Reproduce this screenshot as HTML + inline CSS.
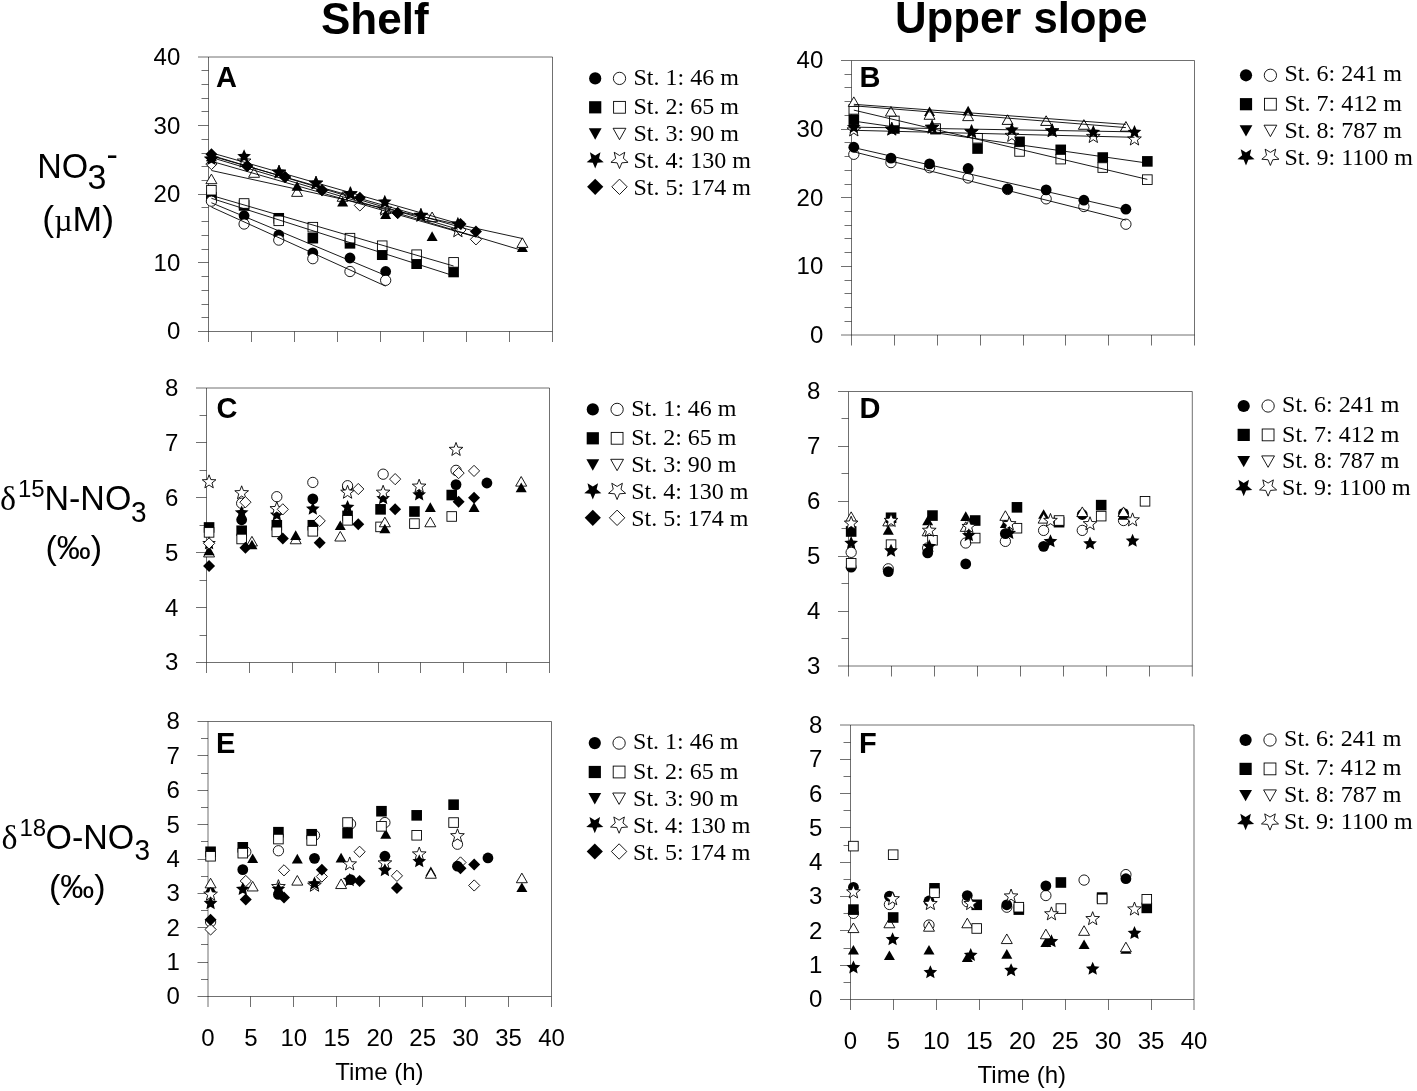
<!DOCTYPE html>
<html><head><meta charset="utf-8"><title>Figure</title>
<style>html,body{margin:0;padding:0;background:#fff;}body{width:1417px;height:1091px;overflow:hidden;}svg{display:block;filter:grayscale(1);}</style>
</head><body>
<svg width="1417" height="1091" viewBox="0 0 1417 1091">
<rect width="1417" height="1091" fill="#fff"/>
<text x="374.8" y="34" font-family="Liberation Sans" font-size="44" font-weight="bold" text-anchor="middle" fill="#000" >Shelf</text>
<text x="1021.3" y="32.6" font-family="Liberation Sans" font-size="43.7" font-weight="bold" text-anchor="middle" fill="#000" >Upper slope</text>
<g stroke="#000" stroke-opacity="0.56" stroke-width="1" fill="none">
<path d="M208.5,57 H552.5 V331.5"/>
<path d="M208.5,57 V331.5 H552.5"/>
<path d="M198,57 H208.5"/>
<path d="M201.5,70.5 H208.5"/>
<path d="M201.5,84.5 H208.5"/>
<path d="M201.5,98.5 H208.5"/>
<path d="M201.5,111.5 H208.5"/>
<path d="M198,125.5 H208.5"/>
<path d="M201.5,139.5 H208.5"/>
<path d="M201.5,153.5 H208.5"/>
<path d="M201.5,166.5 H208.5"/>
<path d="M201.5,180.5 H208.5"/>
<path d="M198,194.5 H208.5"/>
<path d="M201.5,207.5 H208.5"/>
<path d="M201.5,221.5 H208.5"/>
<path d="M201.5,235.5 H208.5"/>
<path d="M201.5,249.5 H208.5"/>
<path d="M198,262.5 H208.5"/>
<path d="M201.5,276.5 H208.5"/>
<path d="M201.5,290.5 H208.5"/>
<path d="M201.5,304.5 H208.5"/>
<path d="M201.5,317.5 H208.5"/>
<path d="M198,331.5 H208.5"/>
<path d="M208.5,331.5 V342"/>
<path d="M251.5,331.5 V342"/>
<path d="M294.5,331.5 V342"/>
<path d="M337.5,331.5 V342"/>
<path d="M380.5,331.5 V342"/>
<path d="M423.5,331.5 V342"/>
<path d="M466.5,331.5 V342"/>
<path d="M509.5,331.5 V342"/>
<path d="M552.5,331.5 V342"/>
</g>
<text x="180.3" y="64.9" font-family="Liberation Sans" font-size="24" font-weight="normal" text-anchor="end" fill="#000" >40</text>
<text x="180.3" y="133.53" font-family="Liberation Sans" font-size="24" font-weight="normal" text-anchor="end" fill="#000" >30</text>
<text x="180.3" y="202.15" font-family="Liberation Sans" font-size="24" font-weight="normal" text-anchor="end" fill="#000" >20</text>
<text x="180.3" y="270.77" font-family="Liberation Sans" font-size="24" font-weight="normal" text-anchor="end" fill="#000" >10</text>
<text x="180.3" y="339.4" font-family="Liberation Sans" font-size="24" font-weight="normal" text-anchor="end" fill="#000" >0</text>
<polygon points="211.42,174.08 216.92,183.68 205.92,183.68" fill="#fff" stroke="#000" stroke-width="0.9" stroke-linejoin="miter"/>
<polygon points="254.08,167.7 259.58,177.3 248.58,177.3" fill="#fff" stroke="#000" stroke-width="0.9" stroke-linejoin="miter"/>
<polygon points="297.08,186.77 302.58,196.37 291.58,196.37" fill="#fff" stroke="#000" stroke-width="0.9" stroke-linejoin="miter"/>
<polygon points="342.66,191.71 348.16,201.31 337.16,201.31" fill="#fff" stroke="#000" stroke-width="0.9" stroke-linejoin="miter"/>
<polygon points="385.66,203.86 391.16,213.46 380.16,213.46" fill="#fff" stroke="#000" stroke-width="0.9" stroke-linejoin="miter"/>
<polygon points="432.1,212.03 437.6,221.63 426.6,221.63" fill="#fff" stroke="#000" stroke-width="0.9" stroke-linejoin="miter"/>
<polygon points="211.42,152.05 213.2,156.81 218.27,157.03 214.3,160.19 215.66,165.08 211.42,162.28 207.19,165.08 208.55,160.19 204.58,157.03 209.65,156.81" fill="#fff" stroke="#000" stroke-width="0.9"/>
<polygon points="244.1,154.11 245.88,158.86 250.95,159.09 246.98,162.25 248.34,167.14 244.1,164.34 239.87,167.14 241.23,162.25 237.26,159.09 242.33,158.86" fill="#fff" stroke="#000" stroke-width="0.9"/>
<polygon points="279.02,165.09 280.8,169.84 285.87,170.07 281.9,173.23 283.25,178.12 279.02,175.32 274.79,178.12 276.14,173.23 272.17,170.07 277.24,169.84" fill="#fff" stroke="#000" stroke-width="0.9"/>
<polygon points="316,176.07 317.78,180.82 322.85,181.05 318.88,184.21 320.23,189.1 316,186.3 311.77,189.1 313.12,184.21 309.15,181.05 314.22,180.82" fill="#fff" stroke="#000" stroke-width="0.9"/>
<polygon points="350.4,186.71 352.18,191.46 357.25,191.68 353.28,194.84 354.63,199.73 350.4,196.93 346.17,199.73 347.52,194.84 343.55,191.68 348.62,191.46" fill="#fff" stroke="#000" stroke-width="0.9"/>
<polygon points="384.8,202.15 386.58,206.9 391.65,207.12 387.68,210.28 389.03,215.17 384.8,212.37 380.57,215.17 381.92,210.28 377.95,207.12 383.02,206.9" fill="#fff" stroke="#000" stroke-width="0.9"/>
<polygon points="420.92,208.33 422.7,213.08 427.77,213.3 423.8,216.46 425.15,221.35 420.92,218.55 416.69,221.35 418.04,216.46 414.07,213.3 419.14,213.08" fill="#fff" stroke="#000" stroke-width="0.9"/>
<polygon points="457.9,223.77 459.68,228.52 464.75,228.74 460.78,231.9 462.13,236.79 457.9,233.99 453.67,236.79 455.02,231.9 451.05,228.74 456.12,228.52" fill="#fff" stroke="#000" stroke-width="0.9"/>
<polygon points="211.42,158.46 217.02,164.06 211.42,169.66 205.82,164.06" fill="#fff" stroke="#000" stroke-width="0.9"/>
<polygon points="247.2,160.51 252.8,166.11 247.2,171.71 241.6,166.11" fill="#fff" stroke="#000" stroke-width="0.9"/>
<polygon points="285.04,171.49 290.64,177.09 285.04,182.69 279.44,177.09" fill="#fff" stroke="#000" stroke-width="0.9"/>
<polygon points="322.02,184.53 327.62,190.13 322.02,195.73 316.42,190.13" fill="#fff" stroke="#000" stroke-width="0.9"/>
<polygon points="359.86,199.84 365.46,205.44 359.86,211.04 354.26,205.44" fill="#fff" stroke="#000" stroke-width="0.9"/>
<polygon points="397.7,207.38 403.3,212.98 397.7,218.58 392.1,212.98" fill="#fff" stroke="#000" stroke-width="0.9"/>
<polygon points="460.48,224.34 466.08,229.94 460.48,235.53 454.88,229.94" fill="#fff" stroke="#000" stroke-width="0.9"/>
<polygon points="475.96,233.74 481.56,239.34 475.96,244.94 470.36,239.34" fill="#fff" stroke="#000" stroke-width="0.9"/>
<polygon points="211.42,151.71 216.92,161.31 205.92,161.31" fill="#000"/>
<polygon points="297.08,181.22 302.58,190.82 291.58,190.82" fill="#000"/>
<polygon points="342.66,196.79 348.16,206.39 337.16,206.39" fill="#000"/>
<polygon points="385.66,209.49 391.16,219.09 380.16,219.09" fill="#000"/>
<polygon points="432.1,231.31 437.6,240.91 426.6,240.91" fill="#000"/>
<polygon points="522.4,242.29 527.9,251.89 516.9,251.89" fill="#000"/>
<polygon points="211.42,152.05 213.41,156.51 218.27,157.03 214.64,160.3 215.66,165.08 211.42,162.64 207.19,165.08 208.21,160.3 204.58,157.03 209.43,156.51" fill="#000"/>
<polygon points="244.1,149.31 246.09,153.77 250.95,154.28 247.32,157.55 248.34,162.33 244.1,159.89 239.87,162.33 240.89,157.55 237.26,154.28 242.11,153.77" fill="#000"/>
<polygon points="279.02,165.09 281.01,169.55 285.87,170.07 282.24,173.34 283.25,178.12 279.02,175.68 274.79,178.12 275.8,173.34 272.17,170.07 277.03,169.55" fill="#000"/>
<polygon points="316,176.07 317.99,180.53 322.85,181.05 319.22,184.32 320.23,189.1 316,186.66 311.77,189.1 312.78,184.32 309.15,181.05 314.01,180.53" fill="#000"/>
<polygon points="350.4,186.71 352.39,191.17 357.25,191.68 353.62,194.95 354.63,199.73 350.4,197.29 346.17,199.73 347.18,194.95 343.55,191.68 348.41,191.17" fill="#000"/>
<polygon points="384.8,194.87 386.79,199.34 391.65,199.85 388.02,203.12 389.03,207.9 384.8,205.46 380.57,207.9 381.58,203.12 377.95,199.85 382.81,199.34" fill="#000"/>
<polygon points="420.92,208.33 422.91,212.79 427.77,213.3 424.14,216.57 425.15,221.35 420.92,218.91 416.69,221.35 417.7,216.57 414.07,213.3 418.93,212.79" fill="#000"/>
<polygon points="457.9,216.7 459.89,221.16 464.75,221.67 461.12,224.94 462.13,229.72 457.9,227.28 453.67,229.72 454.68,224.94 451.05,221.67 455.91,221.16" fill="#000"/>
<polygon points="211.42,148.17 217.42,154.17 211.42,160.17 205.42,154.17" fill="#000"/>
<polygon points="247.2,160.11 253.2,166.11 247.2,172.11 241.2,166.11" fill="#000"/>
<polygon points="285.04,171.09 291.04,177.09 285.04,183.09 279.04,177.09" fill="#000"/>
<polygon points="322.02,184.13 328.02,190.13 322.02,196.13 316.02,190.13" fill="#000"/>
<polygon points="359.86,191.68 365.86,197.68 359.86,203.68 353.86,197.68" fill="#000"/>
<polygon points="397.7,206.98 403.7,212.98 397.7,218.98 391.7,212.98" fill="#000"/>
<polygon points="460.48,217.9 466.48,223.9 460.48,229.9 454.48,223.9" fill="#000"/>
<polygon points="475.96,225.58 481.96,231.58 475.96,237.58 469.96,231.58" fill="#000"/>
<circle cx="211.42" cy="198.02" r="5.4" fill="#000"/>
<circle cx="244.1" cy="215.73" r="5.4" fill="#000"/>
<circle cx="278.76" cy="235.01" r="5.4" fill="#000"/>
<circle cx="312.82" cy="252.92" r="5.4" fill="#000"/>
<circle cx="349.97" cy="258" r="5.4" fill="#000"/>
<circle cx="385.66" cy="271.45" r="5.4" fill="#000"/>
<rect x="206.12" y="191.9" width="10.6" height="10.6" fill="#000"/>
<rect x="238.8" y="200.14" width="10.6" height="10.6" fill="#000"/>
<rect x="273.46" y="212.97" width="10.6" height="10.6" fill="#000"/>
<rect x="307.52" y="232.87" width="10.6" height="10.6" fill="#000"/>
<rect x="344.67" y="238.02" width="10.6" height="10.6" fill="#000"/>
<rect x="376.92" y="249.41" width="10.6" height="10.6" fill="#000"/>
<rect x="411.32" y="258.4" width="10.6" height="10.6" fill="#000"/>
<rect x="448.3" y="266.7" width="10.6" height="10.6" fill="#000"/>
<circle cx="211.42" cy="201.18" r="5.15" fill="#fff" stroke="#000" stroke-width="0.9"/>
<circle cx="244.1" cy="224.03" r="5.15" fill="#fff" stroke="#000" stroke-width="0.9"/>
<circle cx="278.76" cy="240.09" r="5.15" fill="#fff" stroke="#000" stroke-width="0.9"/>
<circle cx="312.82" cy="258.69" r="5.15" fill="#fff" stroke="#000" stroke-width="0.9"/>
<circle cx="349.97" cy="271.52" r="5.15" fill="#fff" stroke="#000" stroke-width="0.9"/>
<circle cx="385.66" cy="280.31" r="5.15" fill="#fff" stroke="#000" stroke-width="0.9"/>
<rect x="206.62" y="185.4" width="9.6" height="9.6" fill="#fff" stroke="#000" stroke-width="0.9"/>
<rect x="239.3" y="198.71" width="9.6" height="9.6" fill="#fff" stroke="#000" stroke-width="0.9"/>
<rect x="273.96" y="216.01" width="9.6" height="9.6" fill="#fff" stroke="#000" stroke-width="0.9"/>
<rect x="308.02" y="222.39" width="9.6" height="9.6" fill="#fff" stroke="#000" stroke-width="0.9"/>
<rect x="345.17" y="233.37" width="9.6" height="9.6" fill="#fff" stroke="#000" stroke-width="0.9"/>
<rect x="377.42" y="240.92" width="9.6" height="9.6" fill="#fff" stroke="#000" stroke-width="0.9"/>
<rect x="411.82" y="249.91" width="9.6" height="9.6" fill="#fff" stroke="#000" stroke-width="0.9"/>
<rect x="448.8" y="257.59" width="9.6" height="9.6" fill="#fff" stroke="#000" stroke-width="0.9"/>
<polygon points="522.4,237.83 527.9,247.43 516.9,247.43" fill="#fff" stroke="#000" stroke-width="0.9" stroke-linejoin="miter"/>
<g stroke="#000" stroke-width="0.9" fill="none">
<path d="M211.42,202.78 L385.66,275.46"/>
<path d="M211.42,207.07 L385.66,286.15"/>
<path d="M211.42,198.32 L453.6,275.73"/>
<path d="M211.42,195.45 L453.6,266"/>
<path d="M211.4,157.5 L522.4,250.5"/>
<path d="M211.4,170.5 L522.4,238.5"/>
<path d="M211.42,152.8 L457.9,223.42"/>
<path d="M211.42,155.33 L457.9,229.23"/>
<path d="M211.42,156.05 L475.96,231.64"/>
<path d="M211.42,161.28 L475.96,236.96"/>
</g>
<g stroke="#000" stroke-opacity="0.56" stroke-width="1" fill="none">
<path d="M851.5,60.5 H1194.5 V335"/>
<path d="M851.5,60.5 V335 H1194.5"/>
<path d="M841,60.5 H851.5"/>
<path d="M844.5,74.5 H851.5"/>
<path d="M844.5,87.5 H851.5"/>
<path d="M844.5,101.5 H851.5"/>
<path d="M844.5,115.5 H851.5"/>
<path d="M841,129.5 H851.5"/>
<path d="M844.5,142.5 H851.5"/>
<path d="M844.5,156.5 H851.5"/>
<path d="M844.5,170.5 H851.5"/>
<path d="M844.5,184.5 H851.5"/>
<path d="M841,197.5 H851.5"/>
<path d="M844.5,211.5 H851.5"/>
<path d="M844.5,225.5 H851.5"/>
<path d="M844.5,238.5 H851.5"/>
<path d="M844.5,252.5 H851.5"/>
<path d="M841,266.5 H851.5"/>
<path d="M844.5,280.5 H851.5"/>
<path d="M844.5,293.5 H851.5"/>
<path d="M844.5,307.5 H851.5"/>
<path d="M844.5,321.5 H851.5"/>
<path d="M841,335 H851.5"/>
<path d="M851.5,335 V345.5"/>
<path d="M894.5,335 V345.5"/>
<path d="M937.5,335 V345.5"/>
<path d="M980.5,335 V345.5"/>
<path d="M1023.5,335 V345.5"/>
<path d="M1065.5,335 V345.5"/>
<path d="M1108.5,335 V345.5"/>
<path d="M1151.5,335 V345.5"/>
<path d="M1194.5,335 V345.5"/>
</g>
<text x="823.3" y="68.4" font-family="Liberation Sans" font-size="24" font-weight="normal" text-anchor="end" fill="#000" >40</text>
<text x="823.3" y="137.03" font-family="Liberation Sans" font-size="24" font-weight="normal" text-anchor="end" fill="#000" >30</text>
<text x="823.3" y="205.65" font-family="Liberation Sans" font-size="24" font-weight="normal" text-anchor="end" fill="#000" >20</text>
<text x="823.3" y="274.27" font-family="Liberation Sans" font-size="24" font-weight="normal" text-anchor="end" fill="#000" >10</text>
<text x="823.3" y="342.9" font-family="Liberation Sans" font-size="24" font-weight="normal" text-anchor="end" fill="#000" >0</text>
<circle cx="853.82" cy="154.31" r="5.15" fill="#fff" stroke="#000" stroke-width="0.9"/>
<circle cx="890.95" cy="162.61" r="5.15" fill="#fff" stroke="#000" stroke-width="0.9"/>
<circle cx="929.53" cy="167.69" r="5.15" fill="#fff" stroke="#000" stroke-width="0.9"/>
<circle cx="968.12" cy="177.99" r="5.15" fill="#fff" stroke="#000" stroke-width="0.9"/>
<circle cx="1007.57" cy="189.52" r="5.15" fill="#fff" stroke="#000" stroke-width="0.9"/>
<circle cx="1046.15" cy="198.85" r="5.15" fill="#fff" stroke="#000" stroke-width="0.9"/>
<circle cx="1083.88" cy="206.53" r="5.15" fill="#fff" stroke="#000" stroke-width="0.9"/>
<circle cx="1125.9" cy="224.24" r="5.15" fill="#fff" stroke="#000" stroke-width="0.9"/>
<circle cx="853.82" cy="147.24" r="5.4" fill="#000"/>
<circle cx="890.95" cy="158.15" r="5.4" fill="#000"/>
<circle cx="929.53" cy="163.92" r="5.4" fill="#000"/>
<circle cx="968.12" cy="168.45" r="5.4" fill="#000"/>
<circle cx="1007.57" cy="188.9" r="5.4" fill="#000"/>
<circle cx="1046.15" cy="189.93" r="5.4" fill="#000"/>
<circle cx="1083.88" cy="200.22" r="5.4" fill="#000"/>
<circle cx="1125.9" cy="209.21" r="5.4" fill="#000"/>
<rect x="848.52" y="114.35" width="10.6" height="10.6" fill="#000"/>
<rect x="889.08" y="123.14" width="10.6" height="10.6" fill="#000"/>
<rect x="930.24" y="123.83" width="10.6" height="10.6" fill="#000"/>
<rect x="972.25" y="143.25" width="10.6" height="10.6" fill="#000"/>
<rect x="1014.27" y="136.52" width="10.6" height="10.6" fill="#000"/>
<rect x="1055.43" y="144.55" width="10.6" height="10.6" fill="#000"/>
<rect x="1097.45" y="152.24" width="10.6" height="10.6" fill="#000"/>
<rect x="1142.04" y="156.08" width="10.6" height="10.6" fill="#000"/>
<rect x="849.02" y="104.56" width="9.6" height="9.6" fill="#fff" stroke="#000" stroke-width="0.9"/>
<rect x="889.58" y="116.16" width="9.6" height="9.6" fill="#fff" stroke="#000" stroke-width="0.9"/>
<rect x="930.74" y="123.84" width="9.6" height="9.6" fill="#fff" stroke="#000" stroke-width="0.9"/>
<rect x="972.75" y="133.45" width="9.6" height="9.6" fill="#fff" stroke="#000" stroke-width="0.9"/>
<rect x="1014.77" y="146.63" width="9.6" height="9.6" fill="#fff" stroke="#000" stroke-width="0.9"/>
<rect x="1055.93" y="154.31" width="9.6" height="9.6" fill="#fff" stroke="#000" stroke-width="0.9"/>
<rect x="1097.95" y="162.75" width="9.6" height="9.6" fill="#fff" stroke="#000" stroke-width="0.9"/>
<rect x="1142.54" y="174.83" width="9.6" height="9.6" fill="#fff" stroke="#000" stroke-width="0.9"/>
<polygon points="929.53,106.48 935.03,116.08 924.03,116.08" fill="#000"/>
<polygon points="968.12,105.8 973.62,115.4 962.62,115.4" fill="#000"/>
<polygon points="1007.57,114.79 1013.07,124.39 1002.07,124.39" fill="#000"/>
<polygon points="1046.15,115.82 1051.65,125.42 1040.65,125.42" fill="#000"/>
<polygon points="1083.88,119.66 1089.38,129.26 1078.38,129.26" fill="#000"/>
<polygon points="1125.9,121.58 1131.4,131.18 1120.4,131.18" fill="#000"/>
<polygon points="853.82,96.88 859.32,106.48 848.32,106.48" fill="#fff" stroke="#000" stroke-width="0.9" stroke-linejoin="miter"/>
<polygon points="890.95,106.48 896.45,116.08 885.45,116.08" fill="#fff" stroke="#000" stroke-width="0.9" stroke-linejoin="miter"/>
<polygon points="929.53,109.71 935.03,119.31 924.03,119.31" fill="#fff" stroke="#000" stroke-width="0.9" stroke-linejoin="miter"/>
<polygon points="968.12,111.01 973.62,120.61 962.62,120.61" fill="#fff" stroke="#000" stroke-width="0.9" stroke-linejoin="miter"/>
<polygon points="1007.57,114.79 1013.07,124.39 1002.07,124.39" fill="#fff" stroke="#000" stroke-width="0.9" stroke-linejoin="miter"/>
<polygon points="1046.15,115.82 1051.65,125.42 1040.65,125.42" fill="#fff" stroke="#000" stroke-width="0.9" stroke-linejoin="miter"/>
<polygon points="1083.88,119.66 1089.38,129.26 1078.38,129.26" fill="#fff" stroke="#000" stroke-width="0.9" stroke-linejoin="miter"/>
<polygon points="1125.9,121.58 1131.4,131.18 1120.4,131.18" fill="#fff" stroke="#000" stroke-width="0.9" stroke-linejoin="miter"/>
<polygon points="853.82,122.96 855.59,127.71 860.66,127.93 856.69,131.09 858.05,135.98 853.82,133.18 849.58,135.98 850.94,131.09 846.97,127.93 852.04,127.71" fill="#fff" stroke="#000" stroke-width="0.9"/>
<polygon points="891.8,122.13 893.58,126.89 898.65,127.11 894.68,130.27 896.03,135.16 891.8,132.36 887.57,135.16 888.93,130.27 884.95,127.11 890.03,126.89" fill="#fff" stroke="#000" stroke-width="0.9"/>
<polygon points="932.11,120.21 933.88,124.96 938.95,125.19 934.98,128.35 936.34,133.24 932.11,130.43 927.87,133.24 929.23,128.35 925.26,125.19 930.33,124.96" fill="#fff" stroke="#000" stroke-width="0.9"/>
<polygon points="971.55,124.67 973.33,129.42 978.4,129.65 974.43,132.81 975.78,137.7 971.55,134.9 967.32,137.7 968.67,132.81 964.7,129.65 969.77,129.42" fill="#fff" stroke="#000" stroke-width="0.9"/>
<polygon points="1011.85,128.45 1013.63,133.2 1018.7,133.42 1014.73,136.58 1016.08,141.47 1011.85,138.67 1007.62,141.47 1008.98,136.58 1005,133.42 1010.08,133.2" fill="#fff" stroke="#000" stroke-width="0.9"/>
<polygon points="1052.15,123.78 1053.93,128.53 1059,128.75 1055.03,131.91 1056.39,136.8 1052.15,134 1047.92,136.8 1049.28,131.91 1045.31,128.75 1050.38,128.53" fill="#fff" stroke="#000" stroke-width="0.9"/>
<polygon points="1093.32,129.48 1095.09,134.23 1100.16,134.45 1096.19,137.61 1097.55,142.5 1093.32,139.7 1089.08,142.5 1090.44,137.61 1086.47,134.45 1091.54,134.23" fill="#fff" stroke="#000" stroke-width="0.9"/>
<polygon points="1134.47,132.01 1136.25,136.77 1141.32,136.99 1137.35,140.15 1138.71,145.04 1134.47,142.24 1130.24,145.04 1131.6,140.15 1127.63,136.99 1132.7,136.77" fill="#fff" stroke="#000" stroke-width="0.9"/>
<polygon points="853.82,120.21 855.8,124.67 860.66,125.19 857.03,128.46 858.05,133.24 853.82,130.79 849.58,133.24 850.6,128.46 846.97,125.19 851.83,124.67" fill="#000"/>
<polygon points="891.8,122.13 893.79,126.59 898.65,127.11 895.02,130.38 896.03,135.16 891.8,132.72 887.57,135.16 888.58,130.38 884.95,127.11 889.81,126.59" fill="#000"/>
<polygon points="932.11,120.21 934.09,124.67 938.95,125.19 935.32,128.46 936.34,133.24 932.11,130.79 927.87,133.24 928.89,128.46 925.26,125.19 930.12,124.67" fill="#000"/>
<polygon points="971.55,124.67 973.54,129.13 978.4,129.65 974.77,132.92 975.78,137.7 971.55,135.26 967.32,137.7 968.33,132.92 964.7,129.65 969.56,129.13" fill="#000"/>
<polygon points="1011.85,122.68 1013.84,127.14 1018.7,127.66 1015.07,130.93 1016.08,135.71 1011.85,133.27 1007.62,135.71 1008.63,130.93 1005,127.66 1009.86,127.14" fill="#000"/>
<polygon points="1052.15,123.78 1054.14,128.24 1059,128.75 1055.37,132.02 1056.39,136.8 1052.15,134.36 1047.92,136.8 1048.94,132.02 1045.31,128.75 1050.17,128.24" fill="#000"/>
<polygon points="1093.32,125.01 1095.3,129.48 1100.16,129.99 1096.53,133.26 1097.55,138.04 1093.32,135.6 1089.08,138.04 1090.1,133.26 1086.47,129.99 1091.33,129.48" fill="#000"/>
<polygon points="1134.47,125.01 1136.46,129.48 1141.32,129.99 1137.69,133.26 1138.71,138.04 1134.47,135.6 1130.24,138.04 1131.26,133.26 1127.63,129.99 1132.49,129.48" fill="#000"/>
<g stroke="#000" stroke-width="0.9" fill="none">
<path d="M853.82,147.61 L1125.9,209.63"/>
<path d="M853.82,151.82 L1125.9,220.11"/>
<path d="M853.82,121.13 L1147.34,163.08"/>
<path d="M853.82,110.11 L1147.34,179.39"/>
<path d="M853.8,104.3 L1125.9,124.4"/>
<path d="M853.8,105.8 L1125.9,127.6"/>
<path d="M853.82,127.15 L1134.47,131.86"/>
<path d="M853.82,130.31 L1134.47,137.31"/>
</g>
<g stroke="#000" stroke-opacity="0.56" stroke-width="1" fill="none">
<path d="M206.5,388 H549.5 V662.5"/>
<path d="M206.5,388 V662.5 H549.5"/>
<path d="M196,388 H206.5"/>
<path d="M199.5,415.5 H206.5"/>
<path d="M196,442.5 H206.5"/>
<path d="M199.5,470.5 H206.5"/>
<path d="M196,497.5 H206.5"/>
<path d="M199.5,525.5 H206.5"/>
<path d="M196,552.5 H206.5"/>
<path d="M199.5,580.5 H206.5"/>
<path d="M196,607.5 H206.5"/>
<path d="M199.5,635.5 H206.5"/>
<path d="M196,662.5 H206.5"/>
<path d="M206.5,662.5 V673"/>
<path d="M249.5,662.5 V673"/>
<path d="M292.5,662.5 V673"/>
<path d="M335.5,662.5 V673"/>
<path d="M378.5,662.5 V673"/>
<path d="M420.5,662.5 V673"/>
<path d="M463.5,662.5 V673"/>
<path d="M506.5,662.5 V673"/>
<path d="M549.5,662.5 V673"/>
</g>
<text x="178.3" y="395.9" font-family="Liberation Sans" font-size="24" font-weight="normal" text-anchor="end" fill="#000" >8</text>
<text x="178.3" y="450.8" font-family="Liberation Sans" font-size="24" font-weight="normal" text-anchor="end" fill="#000" >7</text>
<text x="178.3" y="505.7" font-family="Liberation Sans" font-size="24" font-weight="normal" text-anchor="end" fill="#000" >6</text>
<text x="178.3" y="560.6" font-family="Liberation Sans" font-size="24" font-weight="normal" text-anchor="end" fill="#000" >5</text>
<text x="178.3" y="615.5" font-family="Liberation Sans" font-size="24" font-weight="normal" text-anchor="end" fill="#000" >4</text>
<text x="178.3" y="670.4" font-family="Liberation Sans" font-size="24" font-weight="normal" text-anchor="end" fill="#000" >3</text>
<circle cx="241.66" cy="519.76" r="5.4" fill="#000"/>
<circle cx="312.83" cy="498.9" r="5.4" fill="#000"/>
<circle cx="347.56" cy="487.37" r="5.4" fill="#000"/>
<circle cx="456.03" cy="484.62" r="5.4" fill="#000"/>
<circle cx="486.9" cy="482.98" r="5.4" fill="#000"/>
<rect x="203.77" y="522.15" width="10.6" height="10.6" fill="#000"/>
<rect x="236.36" y="525.44" width="10.6" height="10.6" fill="#000"/>
<rect x="271.51" y="519.95" width="10.6" height="10.6" fill="#000"/>
<rect x="307.53" y="519.95" width="10.6" height="10.6" fill="#000"/>
<rect x="342.26" y="510.62" width="10.6" height="10.6" fill="#000"/>
<rect x="375.27" y="504.03" width="10.6" height="10.6" fill="#000"/>
<rect x="409.14" y="506.22" width="10.6" height="10.6" fill="#000"/>
<rect x="446.44" y="489.75" width="10.6" height="10.6" fill="#000"/>
<circle cx="241.66" cy="503.29" r="5.15" fill="#fff" stroke="#000" stroke-width="0.9"/>
<circle cx="276.81" cy="496.7" r="5.15" fill="#fff" stroke="#000" stroke-width="0.9"/>
<circle cx="312.83" cy="482.43" r="5.15" fill="#fff" stroke="#000" stroke-width="0.9"/>
<circle cx="347.56" cy="485.72" r="5.15" fill="#fff" stroke="#000" stroke-width="0.9"/>
<circle cx="383.14" cy="474.19" r="5.15" fill="#fff" stroke="#000" stroke-width="0.9"/>
<circle cx="456.03" cy="470.35" r="5.15" fill="#fff" stroke="#000" stroke-width="0.9"/>
<rect x="204.27" y="527.59" width="9.6" height="9.6" fill="#fff" stroke="#000" stroke-width="0.9"/>
<rect x="236.86" y="534.18" width="9.6" height="9.6" fill="#fff" stroke="#000" stroke-width="0.9"/>
<rect x="272.01" y="527.04" width="9.6" height="9.6" fill="#fff" stroke="#000" stroke-width="0.9"/>
<rect x="308.03" y="526.49" width="9.6" height="9.6" fill="#fff" stroke="#000" stroke-width="0.9"/>
<rect x="342.76" y="515.51" width="9.6" height="9.6" fill="#fff" stroke="#000" stroke-width="0.9"/>
<rect x="375.77" y="522.1" width="9.6" height="9.6" fill="#fff" stroke="#000" stroke-width="0.9"/>
<rect x="409.64" y="518.8" width="9.6" height="9.6" fill="#fff" stroke="#000" stroke-width="0.9"/>
<rect x="446.94" y="511.67" width="9.6" height="9.6" fill="#fff" stroke="#000" stroke-width="0.9"/>
<polygon points="209.07,536.31 211.06,540.77 215.92,541.28 212.29,544.55 213.3,549.33 209.07,546.89 204.84,549.33 205.85,544.55 202.22,541.28 207.08,540.77" fill="#000"/>
<polygon points="241.66,505.56 243.65,510.02 248.51,510.54 244.88,513.81 245.89,518.59 241.66,516.15 237.43,518.59 238.44,513.81 234.81,510.54 239.67,510.02" fill="#000"/>
<polygon points="276.81,507.76 278.8,512.22 283.66,512.73 280.03,516 281.05,520.78 276.81,518.34 272.58,520.78 273.6,516 269.97,512.73 274.83,512.22" fill="#000"/>
<polygon points="312.83,501.72 314.82,506.18 319.68,506.69 316.05,509.96 317.06,514.74 312.83,512.3 308.6,514.74 309.61,509.96 305.98,506.69 310.84,506.18" fill="#000"/>
<polygon points="347.56,500.07 349.55,504.53 354.41,505.05 350.78,508.32 351.79,513.1 347.56,510.66 343.33,513.1 344.34,508.32 340.71,505.05 345.57,504.53" fill="#000"/>
<polygon points="383.14,491.29 385.13,495.75 389.99,496.26 386.36,499.53 387.38,504.31 383.14,501.87 378.91,504.31 379.93,499.53 376.3,496.26 381.16,495.75" fill="#000"/>
<polygon points="419.16,487.44 421.15,491.91 426.01,492.42 422.38,495.69 423.39,500.47 419.16,498.03 414.93,500.47 415.94,495.69 412.31,492.42 417.17,491.91" fill="#000"/>
<polygon points="209.07,547.35 214.57,556.95 203.57,556.95" fill="#fff" stroke="#000" stroke-width="0.9" stroke-linejoin="miter"/>
<polygon points="251.95,536.37 257.45,545.97 246.45,545.97" fill="#fff" stroke="#000" stroke-width="0.9" stroke-linejoin="miter"/>
<polygon points="295.68,534.18 301.18,543.77 290.18,543.77" fill="#fff" stroke="#000" stroke-width="0.9" stroke-linejoin="miter"/>
<polygon points="340.27,531.43 345.77,541.03 334.77,541.03" fill="#fff" stroke="#000" stroke-width="0.9" stroke-linejoin="miter"/>
<polygon points="384.86,517.16 390.36,526.76 379.36,526.76" fill="#fff" stroke="#000" stroke-width="0.9" stroke-linejoin="miter"/>
<polygon points="430.31,517.16 435.81,526.76 424.81,526.76" fill="#fff" stroke="#000" stroke-width="0.9" stroke-linejoin="miter"/>
<polygon points="521.2,476.53 526.7,486.13 515.7,486.13" fill="#fff" stroke="#000" stroke-width="0.9" stroke-linejoin="miter"/>
<polygon points="209.07,545.7 214.57,555.3 203.57,555.3" fill="#000"/>
<polygon points="251.95,539.67 257.45,549.26 246.45,549.26" fill="#000"/>
<polygon points="295.68,530.33 301.18,539.93 290.18,539.93" fill="#000"/>
<polygon points="340.27,520.45 345.77,530.05 334.77,530.05" fill="#000"/>
<polygon points="384.86,523.74 390.36,533.34 379.36,533.34" fill="#000"/>
<polygon points="430.31,502.33 435.81,511.93 424.81,511.93" fill="#000"/>
<polygon points="474.04,502.33 479.54,511.93 468.54,511.93" fill="#000"/>
<polygon points="521.2,482.57 526.7,492.17 515.7,492.17" fill="#000"/>
<polygon points="209.07,474.82 210.85,479.57 215.92,479.79 211.95,482.95 213.3,487.84 209.07,485.04 204.84,487.84 206.2,482.95 202.22,479.79 207.3,479.57" fill="#fff" stroke="#000" stroke-width="0.9"/>
<polygon points="241.66,485.8 243.43,490.55 248.51,490.77 244.53,493.93 245.89,498.82 241.66,496.02 237.43,498.82 238.78,493.93 234.81,490.77 239.88,490.55" fill="#fff" stroke="#000" stroke-width="0.9"/>
<polygon points="276.81,501.72 278.59,506.47 283.66,506.69 279.69,509.85 281.05,514.74 276.81,511.94 272.58,514.74 273.94,509.85 269.97,506.69 275.04,506.47" fill="#fff" stroke="#000" stroke-width="0.9"/>
<polygon points="347.56,485.25 349.34,490 354.41,490.22 350.43,493.38 351.79,498.27 347.56,495.47 343.33,498.27 344.68,493.38 340.71,490.22 345.78,490" fill="#fff" stroke="#000" stroke-width="0.9"/>
<polygon points="383.14,485.25 384.92,490 389.99,490.22 386.02,493.38 387.38,498.27 383.14,495.47 378.91,498.27 380.27,493.38 376.3,490.22 381.37,490" fill="#fff" stroke="#000" stroke-width="0.9"/>
<polygon points="419.16,479.21 420.94,483.96 426.01,484.18 422.04,487.34 423.39,492.23 419.16,489.43 414.93,492.23 416.28,487.34 412.31,484.18 417.38,483.96" fill="#fff" stroke="#000" stroke-width="0.9"/>
<polygon points="456.03,442.43 457.81,447.18 462.88,447.4 458.91,450.56 460.26,455.45 456.03,452.65 451.8,455.45 453.16,450.56 449.18,447.4 454.26,447.18" fill="#fff" stroke="#000" stroke-width="0.9"/>
<polygon points="209.07,559.88 215.07,565.88 209.07,571.88 203.07,565.88" fill="#000"/>
<polygon points="245.43,541.76 251.43,547.76 245.43,553.76 239.43,547.76" fill="#000"/>
<polygon points="282.82,532.43 288.82,538.43 282.82,544.43 276.82,538.43" fill="#000"/>
<polygon points="319.69,536.82 325.69,542.82 319.69,548.82 313.69,542.82" fill="#000"/>
<polygon points="358.28,518.15 364.28,524.15 358.28,530.15 352.28,524.15" fill="#000"/>
<polygon points="395.15,503.33 401.15,509.33 395.15,515.33 389.15,509.33" fill="#000"/>
<polygon points="458.6,495.64 464.6,501.64 458.6,507.64 452.6,501.64" fill="#000"/>
<polygon points="474.04,491.8 480.04,497.8 474.04,503.8 468.04,497.8" fill="#000"/>
<polygon points="209.07,537.77 214.67,543.37 209.07,548.97 203.47,543.37" fill="#fff" stroke="#000" stroke-width="0.9"/>
<polygon points="245.43,496.59 251.03,502.19 245.43,507.79 239.83,502.19" fill="#fff" stroke="#000" stroke-width="0.9"/>
<polygon points="282.82,503.73 288.42,509.33 282.82,514.93 277.22,509.33" fill="#fff" stroke="#000" stroke-width="0.9"/>
<polygon points="319.69,515.26 325.29,520.86 319.69,526.46 314.09,520.86" fill="#fff" stroke="#000" stroke-width="0.9"/>
<polygon points="358.28,483.42 363.88,489.02 358.28,494.62 352.68,489.02" fill="#fff" stroke="#000" stroke-width="0.9"/>
<polygon points="395.15,473.53 400.75,479.13 395.15,484.73 389.55,479.13" fill="#fff" stroke="#000" stroke-width="0.9"/>
<polygon points="458.6,467.49 464.2,473.09 458.6,478.69 453,473.09" fill="#fff" stroke="#000" stroke-width="0.9"/>
<polygon points="474.04,465.3 479.64,470.9 474.04,476.5 468.44,470.9" fill="#fff" stroke="#000" stroke-width="0.9"/>
<g stroke="#000" stroke-opacity="0.56" stroke-width="1" fill="none">
<path d="M848.5,391.5 H1192.3 V666"/>
<path d="M848.5,391.5 V666 H1192.3"/>
<path d="M838,391.5 H848.5"/>
<path d="M841.5,418.5 H848.5"/>
<path d="M838,446.5 H848.5"/>
<path d="M841.5,473.5 H848.5"/>
<path d="M838,501.5 H848.5"/>
<path d="M841.5,528.5 H848.5"/>
<path d="M838,556.5 H848.5"/>
<path d="M841.5,583.5 H848.5"/>
<path d="M838,611.5 H848.5"/>
<path d="M841.5,638.5 H848.5"/>
<path d="M838,666 H848.5"/>
<path d="M848.5,666 V676.5"/>
<path d="M891.5,666 V676.5"/>
<path d="M934.5,666 V676.5"/>
<path d="M977.5,666 V676.5"/>
<path d="M1020.5,666 V676.5"/>
<path d="M1063.5,666 V676.5"/>
<path d="M1106.5,666 V676.5"/>
<path d="M1149.5,666 V676.5"/>
<path d="M1192.3,666 V676.5"/>
</g>
<text x="820.3" y="399.4" font-family="Liberation Sans" font-size="24" font-weight="normal" text-anchor="end" fill="#000" >8</text>
<text x="820.3" y="454.3" font-family="Liberation Sans" font-size="24" font-weight="normal" text-anchor="end" fill="#000" >7</text>
<text x="820.3" y="509.2" font-family="Liberation Sans" font-size="24" font-weight="normal" text-anchor="end" fill="#000" >6</text>
<text x="820.3" y="564.1" font-family="Liberation Sans" font-size="24" font-weight="normal" text-anchor="end" fill="#000" >5</text>
<text x="820.3" y="619" font-family="Liberation Sans" font-size="24" font-weight="normal" text-anchor="end" fill="#000" >4</text>
<text x="820.3" y="673.9" font-family="Liberation Sans" font-size="24" font-weight="normal" text-anchor="end" fill="#000" >3</text>
<circle cx="851.16" cy="552.36" r="5.15" fill="#fff" stroke="#000" stroke-width="0.9"/>
<circle cx="888.29" cy="568.83" r="5.15" fill="#fff" stroke="#000" stroke-width="0.9"/>
<circle cx="927.66" cy="547.97" r="5.15" fill="#fff" stroke="#000" stroke-width="0.9"/>
<circle cx="965.74" cy="543.02" r="5.15" fill="#fff" stroke="#000" stroke-width="0.9"/>
<circle cx="1005.36" cy="541.38" r="5.15" fill="#fff" stroke="#000" stroke-width="0.9"/>
<circle cx="1043.61" cy="530.4" r="5.15" fill="#fff" stroke="#000" stroke-width="0.9"/>
<circle cx="1082.28" cy="530.4" r="5.15" fill="#fff" stroke="#000" stroke-width="0.9"/>
<circle cx="1123.54" cy="520.51" r="5.15" fill="#fff" stroke="#000" stroke-width="0.9"/>
<circle cx="851.16" cy="567.18" r="5.4" fill="#000"/>
<circle cx="888.29" cy="571.57" r="5.4" fill="#000"/>
<circle cx="927.66" cy="552.91" r="5.4" fill="#000"/>
<circle cx="965.74" cy="563.89" r="5.4" fill="#000"/>
<circle cx="1005.36" cy="533.69" r="5.4" fill="#000"/>
<circle cx="1043.61" cy="546.32" r="5.4" fill="#000"/>
<circle cx="1082.28" cy="514.48" r="5.4" fill="#000"/>
<circle cx="1123.54" cy="513.38" r="5.4" fill="#000"/>
<polygon points="888.29,525.05 893.79,534.65 882.79,534.65" fill="#000"/>
<polygon points="927.66,515.72 933.16,525.31 922.16,525.31" fill="#000"/>
<polygon points="965.74,511.32 971.24,520.92 960.24,520.92" fill="#000"/>
<polygon points="1005.36,518.46 1010.86,528.06 999.86,528.06" fill="#000"/>
<polygon points="1043.61,509.13 1049.11,518.73 1038.11,518.73" fill="#000"/>
<polygon points="1123.54,510.22 1129.04,519.82 1118.04,519.82" fill="#000"/>
<polygon points="851.16,511.87 856.66,521.47 845.66,521.47" fill="#fff" stroke="#000" stroke-width="0.9" stroke-linejoin="miter"/>
<polygon points="888.29,516.26 893.79,525.86 882.79,525.86" fill="#fff" stroke="#000" stroke-width="0.9" stroke-linejoin="miter"/>
<polygon points="927.66,526.15 933.16,535.75 922.16,535.75" fill="#fff" stroke="#000" stroke-width="0.9" stroke-linejoin="miter"/>
<polygon points="965.74,521.75 971.24,531.35 960.24,531.35" fill="#fff" stroke="#000" stroke-width="0.9" stroke-linejoin="miter"/>
<polygon points="1005.36,510.77 1010.86,520.37 999.86,520.37" fill="#fff" stroke="#000" stroke-width="0.9" stroke-linejoin="miter"/>
<polygon points="1043.61,513.52 1049.11,523.12 1038.11,523.12" fill="#fff" stroke="#000" stroke-width="0.9" stroke-linejoin="miter"/>
<polygon points="1082.28,506.93 1087.78,516.53 1076.78,516.53" fill="#fff" stroke="#000" stroke-width="0.9" stroke-linejoin="miter"/>
<polygon points="1123.54,506.93 1129.04,516.53 1118.04,516.53" fill="#fff" stroke="#000" stroke-width="0.9" stroke-linejoin="miter"/>
<rect x="845.86" y="526.2" width="10.6" height="10.6" fill="#000"/>
<rect x="885.75" y="512.47" width="10.6" height="10.6" fill="#000"/>
<rect x="927.17" y="510.27" width="10.6" height="10.6" fill="#000"/>
<rect x="969.89" y="515.22" width="10.6" height="10.6" fill="#000"/>
<rect x="1011.66" y="502.04" width="10.6" height="10.6" fill="#000"/>
<rect x="1053.78" y="516.86" width="10.6" height="10.6" fill="#000"/>
<rect x="1095.89" y="499.84" width="10.6" height="10.6" fill="#000"/>
<rect x="846.36" y="558.54" width="9.6" height="9.6" fill="#fff" stroke="#000" stroke-width="0.9"/>
<rect x="886.25" y="539.87" width="9.6" height="9.6" fill="#fff" stroke="#000" stroke-width="0.9"/>
<rect x="927.67" y="535.48" width="9.6" height="9.6" fill="#fff" stroke="#000" stroke-width="0.9"/>
<rect x="970.39" y="533.28" width="9.6" height="9.6" fill="#fff" stroke="#000" stroke-width="0.9"/>
<rect x="1012.16" y="523.4" width="9.6" height="9.6" fill="#fff" stroke="#000" stroke-width="0.9"/>
<rect x="1054.28" y="515.72" width="9.6" height="9.6" fill="#fff" stroke="#000" stroke-width="0.9"/>
<rect x="1096.39" y="511.32" width="9.6" height="9.6" fill="#fff" stroke="#000" stroke-width="0.9"/>
<rect x="1140.23" y="496.5" width="9.6" height="9.6" fill="#fff" stroke="#000" stroke-width="0.9"/>
<polygon points="851.16,516.2 852.94,520.95 858.01,521.17 854.04,524.33 855.4,529.22 851.16,526.42 846.93,529.22 848.29,524.33 844.32,521.17 849.39,520.95" fill="#fff" stroke="#000" stroke-width="0.9"/>
<polygon points="891.05,513.45 892.82,518.21 897.89,518.43 893.92,521.59 895.28,526.48 891.05,523.68 886.81,526.48 888.17,521.59 884.2,518.43 889.27,518.21" fill="#fff" stroke="#000" stroke-width="0.9"/>
<polygon points="929.29,523.34 931.07,528.09 936.14,528.31 932.17,531.47 933.53,536.36 929.29,533.56 925.06,536.36 926.42,531.47 922.45,528.31 927.52,528.09" fill="#fff" stroke="#000" stroke-width="0.9"/>
<polygon points="968.83,519.49 970.61,524.25 975.68,524.47 971.71,527.63 973.06,532.52 968.83,529.72 964.6,532.52 965.95,527.63 961.98,524.47 967.05,524.25" fill="#fff" stroke="#000" stroke-width="0.9"/>
<polygon points="1009.23,516.75 1011,521.5 1016.07,521.72 1012.1,524.88 1013.46,529.77 1009.23,526.97 1004.99,529.77 1006.35,524.88 1002.38,521.72 1007.45,521.5" fill="#fff" stroke="#000" stroke-width="0.9"/>
<polygon points="1050.48,513.45 1052.26,518.21 1057.33,518.43 1053.36,521.59 1054.71,526.48 1050.48,523.68 1046.25,526.48 1047.61,521.59 1043.63,518.43 1048.71,518.21" fill="#fff" stroke="#000" stroke-width="0.9"/>
<polygon points="1090.02,516.75 1091.8,521.5 1096.87,521.72 1092.9,524.88 1094.25,529.77 1090.02,526.97 1085.79,529.77 1087.14,524.88 1083.17,521.72 1088.24,521.5" fill="#fff" stroke="#000" stroke-width="0.9"/>
<polygon points="1132.56,512.9 1134.34,517.66 1139.41,517.88 1135.44,521.04 1136.8,525.93 1132.56,523.13 1128.33,525.93 1129.69,521.04 1125.72,517.88 1130.79,517.66" fill="#fff" stroke="#000" stroke-width="0.9"/>
<polygon points="851.16,535.96 853.15,540.42 858.01,540.94 854.38,544.21 855.4,548.99 851.16,546.55 846.93,548.99 847.95,544.21 844.32,540.94 849.18,540.42" fill="#000"/>
<polygon points="891.05,543.65 893.03,548.11 897.89,548.62 894.26,551.89 895.28,556.67 891.05,554.23 886.81,556.67 887.83,551.89 884.2,548.62 889.06,548.11" fill="#000"/>
<polygon points="929.29,539.26 931.28,543.72 936.14,544.23 932.51,547.5 933.53,552.28 929.29,549.84 925.06,552.28 926.07,547.5 922.45,544.23 927.3,543.72" fill="#000"/>
<polygon points="968.83,528.28 970.82,532.74 975.68,533.25 972.05,536.52 973.06,541.3 968.83,538.86 964.6,541.3 965.61,536.52 961.98,533.25 966.84,532.74" fill="#000"/>
<polygon points="1009.23,526.08 1011.22,530.54 1016.07,531.06 1012.44,534.33 1013.46,539.11 1009.23,536.66 1004.99,539.11 1006.01,534.33 1002.38,531.06 1007.24,530.54" fill="#000"/>
<polygon points="1050.48,534.32 1052.47,538.78 1057.33,539.29 1053.7,542.56 1054.71,547.34 1050.48,544.9 1046.25,547.34 1047.26,542.56 1043.63,539.29 1048.49,538.78" fill="#000"/>
<polygon points="1090.02,536.51 1092.01,540.97 1096.87,541.49 1093.24,544.76 1094.25,549.54 1090.02,547.1 1085.79,549.54 1086.8,544.76 1083.17,541.49 1088.03,540.97" fill="#000"/>
<polygon points="1132.56,533.77 1134.55,538.23 1139.41,538.74 1135.78,542.01 1136.8,546.79 1132.56,544.35 1128.33,546.79 1129.35,542.01 1125.72,538.74 1130.58,538.23" fill="#000"/>
<g stroke="#000" stroke-opacity="0.56" stroke-width="1" fill="none">
<path d="M208,721.5 H551.5 V996.5"/>
<path d="M208,721.5 V996.5 H551.5"/>
<path d="M197.5,721.5 H208"/>
<path d="M201,738.5 H208"/>
<path d="M197.5,755.5 H208"/>
<path d="M201,773.5 H208"/>
<path d="M197.5,790.5 H208"/>
<path d="M201,807.5 H208"/>
<path d="M197.5,824.5 H208"/>
<path d="M201,841.5 H208"/>
<path d="M197.5,859.5 H208"/>
<path d="M201,876.5 H208"/>
<path d="M197.5,893.5 H208"/>
<path d="M201,910.5 H208"/>
<path d="M197.5,927.5 H208"/>
<path d="M201,944.5 H208"/>
<path d="M197.5,962.5 H208"/>
<path d="M201,979.5 H208"/>
<path d="M197.5,996.5 H208"/>
<path d="M208,996.5 V1007"/>
<path d="M250.5,996.5 V1007"/>
<path d="M293.5,996.5 V1007"/>
<path d="M336.5,996.5 V1007"/>
<path d="M379.5,996.5 V1007"/>
<path d="M422.5,996.5 V1007"/>
<path d="M465.5,996.5 V1007"/>
<path d="M508.5,996.5 V1007"/>
<path d="M551.5,996.5 V1007"/>
</g>
<text x="179.8" y="729.4" font-family="Liberation Sans" font-size="24" font-weight="normal" text-anchor="end" fill="#000" >8</text>
<text x="179.8" y="763.77" font-family="Liberation Sans" font-size="24" font-weight="normal" text-anchor="end" fill="#000" >7</text>
<text x="179.8" y="798.15" font-family="Liberation Sans" font-size="24" font-weight="normal" text-anchor="end" fill="#000" >6</text>
<text x="179.8" y="832.52" font-family="Liberation Sans" font-size="24" font-weight="normal" text-anchor="end" fill="#000" >5</text>
<text x="179.8" y="866.9" font-family="Liberation Sans" font-size="24" font-weight="normal" text-anchor="end" fill="#000" >4</text>
<text x="179.8" y="901.27" font-family="Liberation Sans" font-size="24" font-weight="normal" text-anchor="end" fill="#000" >3</text>
<text x="179.8" y="935.65" font-family="Liberation Sans" font-size="24" font-weight="normal" text-anchor="end" fill="#000" >2</text>
<text x="179.8" y="970.02" font-family="Liberation Sans" font-size="24" font-weight="normal" text-anchor="end" fill="#000" >1</text>
<text x="179.8" y="1004.4" font-family="Liberation Sans" font-size="24" font-weight="normal" text-anchor="end" fill="#000" >0</text>
<text x="208" y="1045.9" font-family="Liberation Sans" font-size="24" font-weight="normal" text-anchor="middle" fill="#000" >0</text>
<text x="250.94" y="1045.9" font-family="Liberation Sans" font-size="24" font-weight="normal" text-anchor="middle" fill="#000" >5</text>
<text x="293.88" y="1045.9" font-family="Liberation Sans" font-size="24" font-weight="normal" text-anchor="middle" fill="#000" >10</text>
<text x="336.81" y="1045.9" font-family="Liberation Sans" font-size="24" font-weight="normal" text-anchor="middle" fill="#000" >15</text>
<text x="379.75" y="1045.9" font-family="Liberation Sans" font-size="24" font-weight="normal" text-anchor="middle" fill="#000" >20</text>
<text x="422.69" y="1045.9" font-family="Liberation Sans" font-size="24" font-weight="normal" text-anchor="middle" fill="#000" >25</text>
<text x="465.62" y="1045.9" font-family="Liberation Sans" font-size="24" font-weight="normal" text-anchor="middle" fill="#000" >30</text>
<text x="508.56" y="1045.9" font-family="Liberation Sans" font-size="24" font-weight="normal" text-anchor="middle" fill="#000" >35</text>
<text x="551.5" y="1045.9" font-family="Liberation Sans" font-size="24" font-weight="normal" text-anchor="middle" fill="#000" >40</text>
<polygon points="210.58,882.73 216.08,892.33 205.08,892.33" fill="#000"/>
<polygon points="252.66,853.51 258.15,863.11 247.16,863.11" fill="#000"/>
<polygon points="297.31,853.86 302.81,863.46 291.81,863.46" fill="#000"/>
<polygon points="341.11,852.83 346.61,862.42 335.61,862.42" fill="#000"/>
<polygon points="385.76,829.11 391.26,838.71 380.26,838.71" fill="#000"/>
<polygon points="430.85,866.58 436.35,876.17 425.35,876.17" fill="#000"/>
<polygon points="521.87,882.39 527.37,891.99 516.37,891.99" fill="#000"/>
<polygon points="210.58,878.26 216.08,887.86 205.08,887.86" fill="#fff" stroke="#000" stroke-width="0.9" stroke-linejoin="miter"/>
<polygon points="252.66,881.36 258.15,890.96 247.16,890.96" fill="#fff" stroke="#000" stroke-width="0.9" stroke-linejoin="miter"/>
<polygon points="297.31,875.51 302.81,885.11 291.81,885.11" fill="#fff" stroke="#000" stroke-width="0.9" stroke-linejoin="miter"/>
<polygon points="341.11,878.95 346.61,888.55 335.61,888.55" fill="#fff" stroke="#000" stroke-width="0.9" stroke-linejoin="miter"/>
<polygon points="430.85,868.64 436.35,878.24 425.35,878.24" fill="#fff" stroke="#000" stroke-width="0.9" stroke-linejoin="miter"/>
<polygon points="521.87,873.11 527.37,882.71 516.37,882.71" fill="#fff" stroke="#000" stroke-width="0.9" stroke-linejoin="miter"/>
<circle cx="210.58" cy="921.91" r="5.15" fill="#fff" stroke="#000" stroke-width="0.9"/>
<circle cx="245.78" cy="851.78" r="5.15" fill="#fff" stroke="#000" stroke-width="0.9"/>
<circle cx="278.42" cy="850.75" r="5.15" fill="#fff" stroke="#000" stroke-width="0.9"/>
<circle cx="314.49" cy="835.28" r="5.15" fill="#fff" stroke="#000" stroke-width="0.9"/>
<circle cx="350.55" cy="823.94" r="5.15" fill="#fff" stroke="#000" stroke-width="0.9"/>
<circle cx="384.9" cy="822.56" r="5.15" fill="#fff" stroke="#000" stroke-width="0.9"/>
<circle cx="457.47" cy="844.22" r="5.15" fill="#fff" stroke="#000" stroke-width="0.9"/>
<polygon points="210.58,887.21 212.35,891.96 217.42,892.18 213.45,895.34 214.81,900.23 210.58,897.43 206.34,900.23 207.7,895.34 203.73,892.18 208.8,891.96" fill="#fff" stroke="#000" stroke-width="0.9"/>
<polygon points="278.42,879.64 280.19,884.4 285.27,884.62 281.29,887.78 282.65,892.67 278.42,889.87 274.19,892.67 275.54,887.78 271.57,884.62 276.64,884.4" fill="#fff" stroke="#000" stroke-width="0.9"/>
<polygon points="314.49,878.27 316.26,883.02 321.33,883.24 317.36,886.4 318.72,891.29 314.49,888.49 310.25,891.29 311.61,886.4 307.64,883.24 312.71,883.02" fill="#fff" stroke="#000" stroke-width="0.9"/>
<polygon points="349.69,856.96 351.47,861.71 356.54,861.93 352.57,865.09 353.93,869.98 349.69,867.18 345.46,869.98 346.82,865.09 342.85,861.93 347.92,861.71" fill="#fff" stroke="#000" stroke-width="0.9"/>
<polygon points="384.9,855.93 386.68,860.68 391.75,860.9 387.78,864.06 389.13,868.95 384.9,866.15 380.67,868.95 382.03,864.06 378.05,860.9 383.13,860.68" fill="#fff" stroke="#000" stroke-width="0.9"/>
<polygon points="419.25,846.99 421.03,851.74 426.1,851.96 422.13,855.12 423.48,860.01 419.25,857.21 415.02,860.01 416.38,855.12 412.4,851.96 417.48,851.74" fill="#fff" stroke="#000" stroke-width="0.9"/>
<polygon points="457.47,828.77 459.24,833.52 464.31,833.74 460.34,836.9 461.7,841.79 457.47,838.99 453.23,841.79 454.59,836.9 450.62,833.74 455.69,833.52" fill="#fff" stroke="#000" stroke-width="0.9"/>
<polygon points="210.58,923.87 216.18,929.47 210.58,935.07 204.98,929.47" fill="#fff" stroke="#000" stroke-width="0.9"/>
<polygon points="245.78,875.4 251.38,881 245.78,886.6 240.19,881" fill="#fff" stroke="#000" stroke-width="0.9"/>
<polygon points="284,864.74 289.6,870.34 284,875.94 278.4,870.34" fill="#fff" stroke="#000" stroke-width="0.9"/>
<polygon points="321.87,870.93 327.47,876.53 321.87,882.13 316.27,876.53" fill="#fff" stroke="#000" stroke-width="0.9"/>
<polygon points="359.57,846.18 365.17,851.78 359.57,857.38 353.97,851.78" fill="#fff" stroke="#000" stroke-width="0.9"/>
<polygon points="396.93,870.24 402.53,875.84 396.93,881.44 391.32,875.84" fill="#fff" stroke="#000" stroke-width="0.9"/>
<polygon points="460.47,856.84 466.07,862.44 460.47,868.04 454.87,862.44" fill="#fff" stroke="#000" stroke-width="0.9"/>
<polygon points="474.21,879.87 479.81,885.47 474.21,891.07 468.61,885.47" fill="#fff" stroke="#000" stroke-width="0.9"/>
<polygon points="210.58,896.14 212.57,900.61 217.42,901.12 213.79,904.39 214.81,909.17 210.58,906.73 206.34,909.17 207.36,904.39 203.73,901.12 208.59,900.61" fill="#000"/>
<polygon points="242.78,882.05 244.77,886.51 249.63,887.03 246,890.3 247.01,895.07 242.78,892.63 238.55,895.07 239.56,890.3 235.93,887.03 240.79,886.51" fill="#000"/>
<polygon points="278.42,882.05 280.41,886.51 285.27,887.03 281.64,890.3 282.65,895.07 278.42,892.63 274.19,895.07 275.2,890.3 271.57,887.03 276.43,886.51" fill="#000"/>
<polygon points="314.49,876.55 316.47,881.01 321.33,881.53 317.7,884.8 318.72,889.57 314.49,887.13 310.25,889.57 311.27,884.8 307.64,881.53 312.5,881.01" fill="#000"/>
<polygon points="349.69,873.11 351.68,877.57 356.54,878.09 352.91,881.36 353.93,886.14 349.69,883.7 345.46,886.14 346.48,881.36 342.85,878.09 347.7,877.57" fill="#000"/>
<polygon points="384.9,863.14 386.89,867.61 391.75,868.12 388.12,871.39 389.13,876.17 384.9,873.73 380.67,876.17 381.68,871.39 378.05,868.12 382.91,867.61" fill="#000"/>
<polygon points="419.25,854.21 421.24,858.67 426.1,859.18 422.47,862.45 423.48,867.23 419.25,864.79 415.02,867.23 416.03,862.45 412.4,859.18 417.26,858.67" fill="#000"/>
<polygon points="210.58,913.84 216.58,919.84 210.58,925.84 204.58,919.84" fill="#000"/>
<polygon points="245.78,893.56 251.78,899.56 245.78,905.56 239.78,899.56" fill="#000"/>
<polygon points="284,891.5 290,897.5 284,903.5 278,897.5" fill="#000"/>
<polygon points="321.87,863.66 327.87,869.66 321.87,875.66 315.87,869.66" fill="#000"/>
<polygon points="359.57,875 365.57,881 359.57,887 353.57,881" fill="#000"/>
<polygon points="396.93,881.88 402.93,887.88 396.93,893.88 390.93,887.88" fill="#000"/>
<polygon points="460.47,862.28 466.47,868.28 460.47,874.28 454.47,868.28" fill="#000"/>
<polygon points="474.21,858.5 480.21,864.5 474.21,870.5 468.21,864.5" fill="#000"/>
<circle cx="242.78" cy="869.66" r="5.4" fill="#000"/>
<circle cx="278.42" cy="894.41" r="5.4" fill="#000"/>
<circle cx="314.49" cy="858.31" r="5.4" fill="#000"/>
<circle cx="350.55" cy="879.62" r="5.4" fill="#000"/>
<circle cx="384.9" cy="856.25" r="5.4" fill="#000"/>
<circle cx="457.47" cy="866.22" r="5.4" fill="#000"/>
<circle cx="487.95" cy="857.97" r="5.4" fill="#000"/>
<rect x="205.28" y="846.48" width="10.6" height="10.6" fill="#000"/>
<rect x="237.48" y="842.01" width="10.6" height="10.6" fill="#000"/>
<rect x="273.12" y="826.89" width="10.6" height="10.6" fill="#000"/>
<rect x="306.35" y="828.95" width="10.6" height="10.6" fill="#000"/>
<rect x="342.25" y="827.92" width="10.6" height="10.6" fill="#000"/>
<rect x="376.17" y="805.92" width="10.6" height="10.6" fill="#000"/>
<rect x="411.38" y="810.04" width="10.6" height="10.6" fill="#000"/>
<rect x="448.3" y="799.39" width="10.6" height="10.6" fill="#000"/>
<rect x="205.78" y="851.45" width="9.6" height="9.6" fill="#fff" stroke="#000" stroke-width="0.9"/>
<rect x="237.98" y="848.36" width="9.6" height="9.6" fill="#fff" stroke="#000" stroke-width="0.9"/>
<rect x="273.62" y="834.26" width="9.6" height="9.6" fill="#fff" stroke="#000" stroke-width="0.9"/>
<rect x="306.85" y="835.64" width="9.6" height="9.6" fill="#fff" stroke="#000" stroke-width="0.9"/>
<rect x="342.75" y="817.76" width="9.6" height="9.6" fill="#fff" stroke="#000" stroke-width="0.9"/>
<rect x="376.67" y="821.54" width="9.6" height="9.6" fill="#fff" stroke="#000" stroke-width="0.9"/>
<rect x="411.88" y="830.48" width="9.6" height="9.6" fill="#fff" stroke="#000" stroke-width="0.9"/>
<rect x="448.8" y="817.76" width="9.6" height="9.6" fill="#fff" stroke="#000" stroke-width="0.9"/>
<g stroke="#000" stroke-opacity="0.56" stroke-width="1" fill="none">
<path d="M850.5,725 H1194 V999.5"/>
<path d="M850.5,725 V999.5 H1194"/>
<path d="M840,725 H850.5"/>
<path d="M843.5,742.5 H850.5"/>
<path d="M840,759.5 H850.5"/>
<path d="M843.5,776.5 H850.5"/>
<path d="M840,793.5 H850.5"/>
<path d="M843.5,810.5 H850.5"/>
<path d="M840,827.5 H850.5"/>
<path d="M843.5,845.5 H850.5"/>
<path d="M840,862.5 H850.5"/>
<path d="M843.5,879.5 H850.5"/>
<path d="M840,896.5 H850.5"/>
<path d="M843.5,913.5 H850.5"/>
<path d="M840,930.5 H850.5"/>
<path d="M843.5,948.5 H850.5"/>
<path d="M840,965.5 H850.5"/>
<path d="M843.5,982.5 H850.5"/>
<path d="M840,999.5 H850.5"/>
<path d="M850.5,999.5 V1010"/>
<path d="M893.5,999.5 V1010"/>
<path d="M936.5,999.5 V1010"/>
<path d="M979.5,999.5 V1010"/>
<path d="M1022.5,999.5 V1010"/>
<path d="M1065.5,999.5 V1010"/>
<path d="M1108.5,999.5 V1010"/>
<path d="M1151.5,999.5 V1010"/>
<path d="M1194,999.5 V1010"/>
</g>
<text x="822.3" y="732.9" font-family="Liberation Sans" font-size="24" font-weight="normal" text-anchor="end" fill="#000" >8</text>
<text x="822.3" y="767.21" font-family="Liberation Sans" font-size="24" font-weight="normal" text-anchor="end" fill="#000" >7</text>
<text x="822.3" y="801.52" font-family="Liberation Sans" font-size="24" font-weight="normal" text-anchor="end" fill="#000" >6</text>
<text x="822.3" y="835.84" font-family="Liberation Sans" font-size="24" font-weight="normal" text-anchor="end" fill="#000" >5</text>
<text x="822.3" y="870.15" font-family="Liberation Sans" font-size="24" font-weight="normal" text-anchor="end" fill="#000" >4</text>
<text x="822.3" y="904.46" font-family="Liberation Sans" font-size="24" font-weight="normal" text-anchor="end" fill="#000" >3</text>
<text x="822.3" y="938.77" font-family="Liberation Sans" font-size="24" font-weight="normal" text-anchor="end" fill="#000" >2</text>
<text x="822.3" y="973.09" font-family="Liberation Sans" font-size="24" font-weight="normal" text-anchor="end" fill="#000" >1</text>
<text x="822.3" y="1007.4" font-family="Liberation Sans" font-size="24" font-weight="normal" text-anchor="end" fill="#000" >0</text>
<text x="850.5" y="1048.9" font-family="Liberation Sans" font-size="24" font-weight="normal" text-anchor="middle" fill="#000" >0</text>
<text x="893.44" y="1048.9" font-family="Liberation Sans" font-size="24" font-weight="normal" text-anchor="middle" fill="#000" >5</text>
<text x="936.38" y="1048.9" font-family="Liberation Sans" font-size="24" font-weight="normal" text-anchor="middle" fill="#000" >10</text>
<text x="979.31" y="1048.9" font-family="Liberation Sans" font-size="24" font-weight="normal" text-anchor="middle" fill="#000" >15</text>
<text x="1022.25" y="1048.9" font-family="Liberation Sans" font-size="24" font-weight="normal" text-anchor="middle" fill="#000" >20</text>
<text x="1065.19" y="1048.9" font-family="Liberation Sans" font-size="24" font-weight="normal" text-anchor="middle" fill="#000" >25</text>
<text x="1108.12" y="1048.9" font-family="Liberation Sans" font-size="24" font-weight="normal" text-anchor="middle" fill="#000" >30</text>
<text x="1151.06" y="1048.9" font-family="Liberation Sans" font-size="24" font-weight="normal" text-anchor="middle" fill="#000" >35</text>
<text x="1194" y="1048.9" font-family="Liberation Sans" font-size="24" font-weight="normal" text-anchor="middle" fill="#000" >40</text>
<circle cx="853.42" cy="913.38" r="5.15" fill="#fff" stroke="#000" stroke-width="0.9"/>
<circle cx="889.4" cy="904.45" r="5.15" fill="#fff" stroke="#000" stroke-width="0.9"/>
<circle cx="928.99" cy="925.04" r="5.15" fill="#fff" stroke="#000" stroke-width="0.9"/>
<circle cx="967.29" cy="901.71" r="5.15" fill="#fff" stroke="#000" stroke-width="0.9"/>
<circle cx="1006.79" cy="907.2" r="5.15" fill="#fff" stroke="#000" stroke-width="0.9"/>
<circle cx="1045.87" cy="895.53" r="5.15" fill="#fff" stroke="#000" stroke-width="0.9"/>
<circle cx="1084.08" cy="880.09" r="5.15" fill="#fff" stroke="#000" stroke-width="0.9"/>
<circle cx="1125.9" cy="874.6" r="5.15" fill="#fff" stroke="#000" stroke-width="0.9"/>
<polygon points="853.42,944.95 858.92,954.55 847.92,954.55" fill="#000"/>
<polygon points="889.4,950.44 894.9,960.04 883.9,960.04" fill="#000"/>
<polygon points="928.99,944.95 934.49,954.55 923.49,954.55" fill="#000"/>
<polygon points="967.29,952.5 972.79,962.1 961.79,962.1" fill="#000"/>
<polygon points="1006.79,949.06 1012.29,958.66 1001.29,958.66" fill="#000"/>
<polygon points="1045.87,937.4 1051.37,947 1040.37,947" fill="#000"/>
<polygon points="1084.08,939.46 1089.58,949.06 1078.58,949.06" fill="#000"/>
<polygon points="1125.9,944.26 1131.4,953.86 1120.4,953.86" fill="#000"/>
<polygon points="853.42,922.99 858.92,932.59 847.92,932.59" fill="#fff" stroke="#000" stroke-width="0.9" stroke-linejoin="miter"/>
<polygon points="889.4,918.18 894.9,927.78 883.9,927.78" fill="#fff" stroke="#000" stroke-width="0.9" stroke-linejoin="miter"/>
<polygon points="928.99,921.61 934.49,931.21 923.49,931.21" fill="#fff" stroke="#000" stroke-width="0.9" stroke-linejoin="miter"/>
<polygon points="967.29,918.18 972.79,927.78 961.79,927.78" fill="#fff" stroke="#000" stroke-width="0.9" stroke-linejoin="miter"/>
<polygon points="1006.79,933.97 1012.29,943.57 1001.29,943.57" fill="#fff" stroke="#000" stroke-width="0.9" stroke-linejoin="miter"/>
<polygon points="1045.87,929.16 1051.37,938.76 1040.37,938.76" fill="#fff" stroke="#000" stroke-width="0.9" stroke-linejoin="miter"/>
<polygon points="1084.08,925.73 1089.58,935.33 1078.58,935.33" fill="#fff" stroke="#000" stroke-width="0.9" stroke-linejoin="miter"/>
<polygon points="1125.9,942.2 1131.4,951.8 1120.4,951.8" fill="#fff" stroke="#000" stroke-width="0.9" stroke-linejoin="miter"/>
<circle cx="853.42" cy="887.3" r="5.4" fill="#000"/>
<circle cx="889.4" cy="896.22" r="5.4" fill="#000"/>
<circle cx="928.99" cy="901.02" r="5.4" fill="#000"/>
<circle cx="967.29" cy="895.53" r="5.4" fill="#000"/>
<circle cx="1006.79" cy="904.8" r="5.4" fill="#000"/>
<circle cx="1045.87" cy="885.93" r="5.4" fill="#000"/>
<circle cx="1125.9" cy="878.72" r="5.4" fill="#000"/>
<rect x="848.12" y="904.3" width="10.6" height="10.6" fill="#000"/>
<rect x="887.88" y="912.19" width="10.6" height="10.6" fill="#000"/>
<rect x="929.19" y="883.03" width="10.6" height="10.6" fill="#000"/>
<rect x="971.44" y="899.5" width="10.6" height="10.6" fill="#000"/>
<rect x="1013.52" y="904.3" width="10.6" height="10.6" fill="#000"/>
<rect x="1055.59" y="877.19" width="10.6" height="10.6" fill="#000"/>
<rect x="1096.81" y="892.29" width="10.6" height="10.6" fill="#000"/>
<rect x="1141.47" y="902.59" width="10.6" height="10.6" fill="#000"/>
<rect x="848.62" y="841.32" width="9.6" height="9.6" fill="#fff" stroke="#000" stroke-width="0.9"/>
<rect x="888.38" y="849.9" width="9.6" height="9.6" fill="#fff" stroke="#000" stroke-width="0.9"/>
<rect x="929.69" y="887.99" width="9.6" height="9.6" fill="#fff" stroke="#000" stroke-width="0.9"/>
<rect x="971.94" y="923.67" width="9.6" height="9.6" fill="#fff" stroke="#000" stroke-width="0.9"/>
<rect x="1014.02" y="902.4" width="9.6" height="9.6" fill="#fff" stroke="#000" stroke-width="0.9"/>
<rect x="1056.09" y="903.77" width="9.6" height="9.6" fill="#fff" stroke="#000" stroke-width="0.9"/>
<rect x="1097.31" y="894.16" width="9.6" height="9.6" fill="#fff" stroke="#000" stroke-width="0.9"/>
<rect x="1141.97" y="894.51" width="9.6" height="9.6" fill="#fff" stroke="#000" stroke-width="0.9"/>
<polygon points="853.42,884.9 855.2,889.66 860.27,889.88 856.3,893.04 857.65,897.93 853.42,895.13 849.19,897.93 850.54,893.04 846.57,889.88 851.64,889.66" fill="#fff" stroke="#000" stroke-width="0.9"/>
<polygon points="892.58,891.77 894.36,896.52 899.43,896.74 895.45,899.9 896.81,904.79 892.58,901.99 888.35,904.79 889.7,899.9 885.73,896.74 890.8,896.52" fill="#fff" stroke="#000" stroke-width="0.9"/>
<polygon points="930.36,896.57 932.14,901.32 937.21,901.54 933.24,904.7 934.6,909.59 930.36,906.79 926.13,909.59 927.49,904.7 923.52,901.54 928.59,901.32" fill="#fff" stroke="#000" stroke-width="0.9"/>
<polygon points="970.73,896.57 972.5,901.32 977.57,901.54 973.6,904.7 974.96,909.59 970.73,906.79 966.49,909.59 967.85,904.7 963.88,901.54 968.95,901.32" fill="#fff" stroke="#000" stroke-width="0.9"/>
<polygon points="1011.09,889.02 1012.86,893.77 1017.93,894 1013.96,897.16 1015.32,902.05 1011.09,899.24 1006.85,902.05 1008.21,897.16 1004.24,894 1009.31,893.77" fill="#fff" stroke="#000" stroke-width="0.9"/>
<polygon points="1051.45,906.86 1053.22,911.62 1058.3,911.84 1054.32,915 1055.68,919.89 1051.45,917.09 1047.22,919.89 1048.57,915 1044.6,911.84 1049.67,911.62" fill="#fff" stroke="#000" stroke-width="0.9"/>
<polygon points="1092.67,911.67 1094.44,916.42 1099.52,916.64 1095.54,919.8 1096.9,924.69 1092.67,921.89 1088.44,924.69 1089.79,919.8 1085.82,916.64 1090.89,916.42" fill="#fff" stroke="#000" stroke-width="0.9"/>
<polygon points="1134.49,902.06 1136.27,906.81 1141.34,907.03 1137.36,910.19 1138.72,915.08 1134.49,912.28 1130.26,915.08 1131.61,910.19 1127.64,907.03 1132.71,906.81" fill="#fff" stroke="#000" stroke-width="0.9"/>
<polygon points="853.42,960.39 855.41,964.85 860.27,965.37 856.64,968.64 857.65,973.42 853.42,970.97 849.19,973.42 850.2,968.64 846.57,965.37 851.43,964.85" fill="#000"/>
<polygon points="892.58,932.25 894.57,936.72 899.43,937.23 895.8,940.5 896.81,945.28 892.58,942.84 888.35,945.28 889.36,940.5 885.73,937.23 890.59,936.72" fill="#000"/>
<polygon points="930.36,965.19 932.35,969.66 937.21,970.17 933.58,973.44 934.6,978.22 930.36,975.78 926.13,978.22 927.15,973.44 923.52,970.17 928.37,969.66" fill="#000"/>
<polygon points="970.73,948.04 972.71,952.5 977.57,953.01 973.94,956.28 974.96,961.06 970.73,958.62 966.49,961.06 967.51,956.28 963.88,953.01 968.74,952.5" fill="#000"/>
<polygon points="1011.09,963.14 1013.08,967.6 1017.93,968.11 1014.3,971.38 1015.32,976.16 1011.09,973.72 1006.85,976.16 1007.87,971.38 1004.24,968.11 1009.1,967.6" fill="#000"/>
<polygon points="1051.45,934.31 1053.44,938.78 1058.3,939.29 1054.67,942.56 1055.68,947.34 1051.45,944.9 1047.22,947.34 1048.23,942.56 1044.6,939.29 1049.46,938.78" fill="#000"/>
<polygon points="1092.67,961.76 1094.66,966.23 1099.52,966.74 1095.89,970.01 1096.9,974.79 1092.67,972.35 1088.44,974.79 1089.45,970.01 1085.82,966.74 1090.68,966.23" fill="#000"/>
<polygon points="1134.49,926.08 1136.48,930.54 1141.34,931.05 1137.71,934.32 1138.72,939.1 1134.49,936.66 1130.26,939.1 1131.27,934.32 1127.64,931.05 1132.5,930.54" fill="#000"/>
<text x="216" y="87" font-family="Liberation Sans" font-size="29" font-weight="bold" text-anchor="start" fill="#000" >A</text>
<text x="859.5" y="87" font-family="Liberation Sans" font-size="29" font-weight="bold" text-anchor="start" fill="#000" >B</text>
<text x="216.5" y="418.2" font-family="Liberation Sans" font-size="29" font-weight="bold" text-anchor="start" fill="#000" >C</text>
<text x="859.5" y="418" font-family="Liberation Sans" font-size="29" font-weight="bold" text-anchor="start" fill="#000" >D</text>
<text x="216" y="752.8" font-family="Liberation Sans" font-size="29" font-weight="bold" text-anchor="start" fill="#000" >E</text>
<text x="859" y="752.8" font-family="Liberation Sans" font-size="29" font-weight="bold" text-anchor="start" fill="#000" >F</text>
<g transform="translate(0,178.3) scale(1,1.045) translate(0,-178.3)"><text x="37.3" y="178.3" font-family="Liberation Sans" font-size="34" font-weight="normal" text-anchor="start" fill="#000" >NO</text></g>
<g transform="translate(0,189) scale(1,1.045) translate(0,-189)"><text x="87.5" y="189" font-family="Liberation Sans" font-size="34" font-weight="normal" text-anchor="start" fill="#000" >3</text></g>
<text x="106.5" y="165.5" font-family="Liberation Sans" font-size="34" font-weight="normal" text-anchor="start" fill="#000" >-</text>
<text x="42.3" y="230.8" font-family="Liberation Sans" font-size="35.5" font-weight="normal" text-anchor="start" fill="#000" >(<tspan font-family="Liberation Serif" font-size="32">&#xb5;</tspan>M)</text>
<text x="0" y="510.2" font-family="Liberation Serif" font-size="34" font-weight="normal" text-anchor="start" fill="#000" >δ</text>
<text x="18" y="497.3" font-family="Liberation Sans" font-size="24" font-weight="normal" text-anchor="start" fill="#000" >15</text>
<g transform="translate(0,510.2) scale(1,1.045) translate(0,-510.2)"><text x="44.5" y="510.2" font-family="Liberation Sans" font-size="34" font-weight="normal" text-anchor="start" fill="#000" >N-NO</text></g>
<g transform="translate(0,522) scale(1,1.045) translate(0,-522)"><text x="131" y="522" font-family="Liberation Sans" font-size="28" font-weight="normal" text-anchor="start" fill="#000" >3</text></g>
<text x="45.5" y="558.7" font-family="Liberation Sans" font-size="34" font-weight="normal" text-anchor="start" fill="#000" >(‰)</text>
<text x="1.5" y="848.9" font-family="Liberation Serif" font-size="34" font-weight="normal" text-anchor="start" fill="#000" >δ</text>
<text x="19.5" y="835.7" font-family="Liberation Sans" font-size="24" font-weight="normal" text-anchor="start" fill="#000" >18</text>
<g transform="translate(0,848.9) scale(1,1.045) translate(0,-848.9)"><text x="45.5" y="848.9" font-family="Liberation Sans" font-size="34" font-weight="normal" text-anchor="start" fill="#000" >O-NO</text></g>
<g transform="translate(0,860.5) scale(1,1.045) translate(0,-860.5)"><text x="134.5" y="860.5" font-family="Liberation Sans" font-size="28" font-weight="normal" text-anchor="start" fill="#000" >3</text></g>
<text x="49" y="898" font-family="Liberation Sans" font-size="34" font-weight="normal" text-anchor="start" fill="#000" >(‰)</text>
<text x="379.4" y="1079.7" font-family="Liberation Sans" font-size="24" font-weight="normal" text-anchor="middle" fill="#000" >Time (h)</text>
<text x="1021.8" y="1083" font-family="Liberation Sans" font-size="24" font-weight="normal" text-anchor="middle" fill="#000" >Time (h)</text>
<circle cx="595.2" cy="78.4" r="6.1" fill="#000"/>
<circle cx="619.5" cy="78.4" r="6.15" fill="#fff" stroke="#000" stroke-width="0.9"/>
<text x="633.5" y="84.6" font-family="Liberation Serif" font-size="24" font-weight="normal" text-anchor="start" fill="#000" >St. 1: 46 m</text>
<rect x="589.1" y="101.2" width="12.2" height="12.2" fill="#000"/>
<rect x="613.6" y="101.4" width="11.8" height="11.8" fill="#fff" stroke="#000" stroke-width="0.9"/>
<text x="633.5" y="114" font-family="Liberation Serif" font-size="24" font-weight="normal" text-anchor="start" fill="#000" >St. 2: 65 m</text>
<polygon points="595.2,139.7 601.6,128.3 588.8,128.3" fill="#000"/>
<polygon points="619.5,139.7 625.9,128.3 613.1,128.3" fill="#fff" stroke="#000" stroke-width="0.9" stroke-linejoin="miter"/>
<text x="633.5" y="140.9" font-family="Liberation Serif" font-size="24" font-weight="normal" text-anchor="start" fill="#000" >St. 3: 90 m</text>
<polygon points="595.2,168.54 597.58,162.82 603.76,162.32 599.05,158.29 600.49,152.26 595.2,155.49 589.91,152.26 591.35,158.29 586.64,162.32 592.82,162.82" fill="#000"/>
<polygon points="619.5,168.54 621.88,162.82 628.06,162.32 623.35,158.29 624.79,152.26 619.5,155.49 614.21,152.26 615.65,158.29 610.94,162.32 617.12,162.82" fill="#fff" stroke="#000" stroke-width="0.9"/>
<text x="633.5" y="167.9" font-family="Liberation Serif" font-size="24" font-weight="normal" text-anchor="start" fill="#000" >St. 4: 130 m</text>
<polygon points="595.2,178.7 603.3,186.8 595.2,194.9 587.1,186.8" fill="#000"/>
<polygon points="619.5,179.1 627.2,186.8 619.5,194.5 611.8,186.8" fill="#fff" stroke="#000" stroke-width="0.9"/>
<text x="633.5" y="194.7" font-family="Liberation Serif" font-size="24" font-weight="normal" text-anchor="start" fill="#000" >St. 5: 174 m</text>
<circle cx="592.8" cy="409.4" r="6.1" fill="#000"/>
<circle cx="617.1" cy="409.4" r="6.15" fill="#fff" stroke="#000" stroke-width="0.9"/>
<text x="631.2" y="415.5" font-family="Liberation Serif" font-size="24" font-weight="normal" text-anchor="start" fill="#000" >St. 1: 46 m</text>
<rect x="586.7" y="432.2" width="12.2" height="12.2" fill="#000"/>
<rect x="611.2" y="432.4" width="11.8" height="11.8" fill="#fff" stroke="#000" stroke-width="0.9"/>
<text x="631.2" y="444.9" font-family="Liberation Serif" font-size="24" font-weight="normal" text-anchor="start" fill="#000" >St. 2: 65 m</text>
<polygon points="592.8,470.7 599.2,459.3 586.4,459.3" fill="#000"/>
<polygon points="617.1,470.7 623.5,459.3 610.7,459.3" fill="#fff" stroke="#000" stroke-width="0.9" stroke-linejoin="miter"/>
<text x="631.2" y="471.8" font-family="Liberation Serif" font-size="24" font-weight="normal" text-anchor="start" fill="#000" >St. 3: 90 m</text>
<polygon points="592.8,499.54 595.18,493.82 601.36,493.32 596.65,489.29 598.09,483.26 592.8,486.49 587.51,483.26 588.95,489.29 584.24,493.32 590.42,493.82" fill="#000"/>
<polygon points="617.1,499.54 619.48,493.82 625.66,493.32 620.95,489.29 622.39,483.26 617.1,486.49 611.81,483.26 613.25,489.29 608.54,493.32 614.72,493.82" fill="#fff" stroke="#000" stroke-width="0.9"/>
<text x="631.2" y="498.8" font-family="Liberation Serif" font-size="24" font-weight="normal" text-anchor="start" fill="#000" >St. 4: 130 m</text>
<polygon points="592.8,509.7 600.9,517.8 592.8,525.9 584.7,517.8" fill="#000"/>
<polygon points="617.1,510.1 624.8,517.8 617.1,525.5 609.4,517.8" fill="#fff" stroke="#000" stroke-width="0.9"/>
<text x="631.2" y="525.6" font-family="Liberation Serif" font-size="24" font-weight="normal" text-anchor="start" fill="#000" >St. 5: 174 m</text>
<circle cx="594.8" cy="743.1" r="6.1" fill="#000"/>
<circle cx="619.1" cy="743.1" r="6.15" fill="#fff" stroke="#000" stroke-width="0.9"/>
<text x="633.1" y="749.4" font-family="Liberation Serif" font-size="24" font-weight="normal" text-anchor="start" fill="#000" >St. 1: 46 m</text>
<rect x="588.7" y="765.9" width="12.2" height="12.2" fill="#000"/>
<rect x="613.2" y="766.1" width="11.8" height="11.8" fill="#fff" stroke="#000" stroke-width="0.9"/>
<text x="633.1" y="778.8" font-family="Liberation Serif" font-size="24" font-weight="normal" text-anchor="start" fill="#000" >St. 2: 65 m</text>
<polygon points="594.8,804.4 601.2,793 588.4,793" fill="#000"/>
<polygon points="619.1,804.4 625.5,793 612.7,793" fill="#fff" stroke="#000" stroke-width="0.9" stroke-linejoin="miter"/>
<text x="633.1" y="805.7" font-family="Liberation Serif" font-size="24" font-weight="normal" text-anchor="start" fill="#000" >St. 3: 90 m</text>
<polygon points="594.8,833.24 597.18,827.52 603.36,827.02 598.65,822.99 600.09,816.96 594.8,820.19 589.51,816.96 590.95,822.99 586.24,827.02 592.42,827.52" fill="#000"/>
<polygon points="619.1,833.24 621.48,827.52 627.66,827.02 622.95,822.99 624.39,816.96 619.1,820.19 613.81,816.96 615.25,822.99 610.54,827.02 616.72,827.52" fill="#fff" stroke="#000" stroke-width="0.9"/>
<text x="633.1" y="832.7" font-family="Liberation Serif" font-size="24" font-weight="normal" text-anchor="start" fill="#000" >St. 4: 130 m</text>
<polygon points="594.8,843.4 602.9,851.5 594.8,859.6 586.7,851.5" fill="#000"/>
<polygon points="619.1,843.8 626.8,851.5 619.1,859.2 611.4,851.5" fill="#fff" stroke="#000" stroke-width="0.9"/>
<text x="633.1" y="859.5" font-family="Liberation Serif" font-size="24" font-weight="normal" text-anchor="start" fill="#000" >St. 5: 174 m</text>
<circle cx="1246" cy="75.3" r="6.1" fill="#000"/>
<circle cx="1270.4" cy="75.3" r="6.15" fill="#fff" stroke="#000" stroke-width="0.9"/>
<text x="1284.5" y="81.4" font-family="Liberation Serif" font-size="24" font-weight="normal" text-anchor="start" fill="#000" >St. 6: 241 m</text>
<rect x="1239.9" y="98.1" width="12.2" height="12.2" fill="#000"/>
<rect x="1264.5" y="98.3" width="11.8" height="11.8" fill="#fff" stroke="#000" stroke-width="0.9"/>
<text x="1284.5" y="110.8" font-family="Liberation Serif" font-size="24" font-weight="normal" text-anchor="start" fill="#000" >St. 7: 412 m</text>
<polygon points="1246,136.6 1252.4,125.2 1239.6,125.2" fill="#000"/>
<polygon points="1270.4,136.6 1276.8,125.2 1264,125.2" fill="#fff" stroke="#000" stroke-width="0.9" stroke-linejoin="miter"/>
<text x="1284.5" y="137.7" font-family="Liberation Serif" font-size="24" font-weight="normal" text-anchor="start" fill="#000" >St. 8: 787 m</text>
<polygon points="1246,165.44 1248.38,159.72 1254.56,159.22 1249.85,155.19 1251.29,149.16 1246,152.39 1240.71,149.16 1242.15,155.19 1237.44,159.22 1243.62,159.72" fill="#000"/>
<polygon points="1270.4,165.44 1272.78,159.72 1278.96,159.22 1274.25,155.19 1275.69,149.16 1270.4,152.39 1265.11,149.16 1266.55,155.19 1261.84,159.22 1268.02,159.72" fill="#fff" stroke="#000" stroke-width="0.9"/>
<text x="1284.5" y="164.7" font-family="Liberation Serif" font-size="24" font-weight="normal" text-anchor="start" fill="#000" >St. 9: 1100 m</text>
<circle cx="1243.7" cy="406" r="6.1" fill="#000"/>
<circle cx="1268.1" cy="406" r="6.15" fill="#fff" stroke="#000" stroke-width="0.9"/>
<text x="1282.1" y="412.1" font-family="Liberation Serif" font-size="24" font-weight="normal" text-anchor="start" fill="#000" >St. 6: 241 m</text>
<rect x="1237.6" y="428.8" width="12.2" height="12.2" fill="#000"/>
<rect x="1262.2" y="429" width="11.8" height="11.8" fill="#fff" stroke="#000" stroke-width="0.9"/>
<text x="1282.1" y="441.5" font-family="Liberation Serif" font-size="24" font-weight="normal" text-anchor="start" fill="#000" >St. 7: 412 m</text>
<polygon points="1243.7,467.3 1250.1,455.9 1237.3,455.9" fill="#000"/>
<polygon points="1268.1,467.3 1274.5,455.9 1261.7,455.9" fill="#fff" stroke="#000" stroke-width="0.9" stroke-linejoin="miter"/>
<text x="1282.1" y="468.4" font-family="Liberation Serif" font-size="24" font-weight="normal" text-anchor="start" fill="#000" >St. 8: 787 m</text>
<polygon points="1243.7,496.14 1246.08,490.42 1252.26,489.92 1247.55,485.89 1248.99,479.86 1243.7,483.09 1238.41,479.86 1239.85,485.89 1235.14,489.92 1241.32,490.42" fill="#000"/>
<polygon points="1268.1,496.14 1270.48,490.42 1276.66,489.92 1271.95,485.89 1273.39,479.86 1268.1,483.09 1262.81,479.86 1264.25,485.89 1259.54,489.92 1265.72,490.42" fill="#fff" stroke="#000" stroke-width="0.9"/>
<text x="1282.1" y="495.4" font-family="Liberation Serif" font-size="24" font-weight="normal" text-anchor="start" fill="#000" >St. 9: 1100 m</text>
<circle cx="1245.6" cy="740" r="6.1" fill="#000"/>
<circle cx="1270" cy="740" r="6.15" fill="#fff" stroke="#000" stroke-width="0.9"/>
<text x="1284.1" y="745.7" font-family="Liberation Serif" font-size="24" font-weight="normal" text-anchor="start" fill="#000" >St. 6: 241 m</text>
<rect x="1239.5" y="762.8" width="12.2" height="12.2" fill="#000"/>
<rect x="1264.1" y="763" width="11.8" height="11.8" fill="#fff" stroke="#000" stroke-width="0.9"/>
<text x="1284.1" y="775.1" font-family="Liberation Serif" font-size="24" font-weight="normal" text-anchor="start" fill="#000" >St. 7: 412 m</text>
<polygon points="1245.6,801.3 1252,789.9 1239.2,789.9" fill="#000"/>
<polygon points="1270,801.3 1276.4,789.9 1263.6,789.9" fill="#fff" stroke="#000" stroke-width="0.9" stroke-linejoin="miter"/>
<text x="1284.1" y="802" font-family="Liberation Serif" font-size="24" font-weight="normal" text-anchor="start" fill="#000" >St. 8: 787 m</text>
<polygon points="1245.6,830.14 1247.98,824.42 1254.16,823.92 1249.45,819.89 1250.89,813.86 1245.6,817.09 1240.31,813.86 1241.75,819.89 1237.04,823.92 1243.22,824.42" fill="#000"/>
<polygon points="1270,830.14 1272.38,824.42 1278.56,823.92 1273.85,819.89 1275.29,813.86 1270,817.09 1264.71,813.86 1266.15,819.89 1261.44,823.92 1267.62,824.42" fill="#fff" stroke="#000" stroke-width="0.9"/>
<text x="1284.1" y="829" font-family="Liberation Serif" font-size="24" font-weight="normal" text-anchor="start" fill="#000" >St. 9: 1100 m</text>
</svg>
</body></html>
